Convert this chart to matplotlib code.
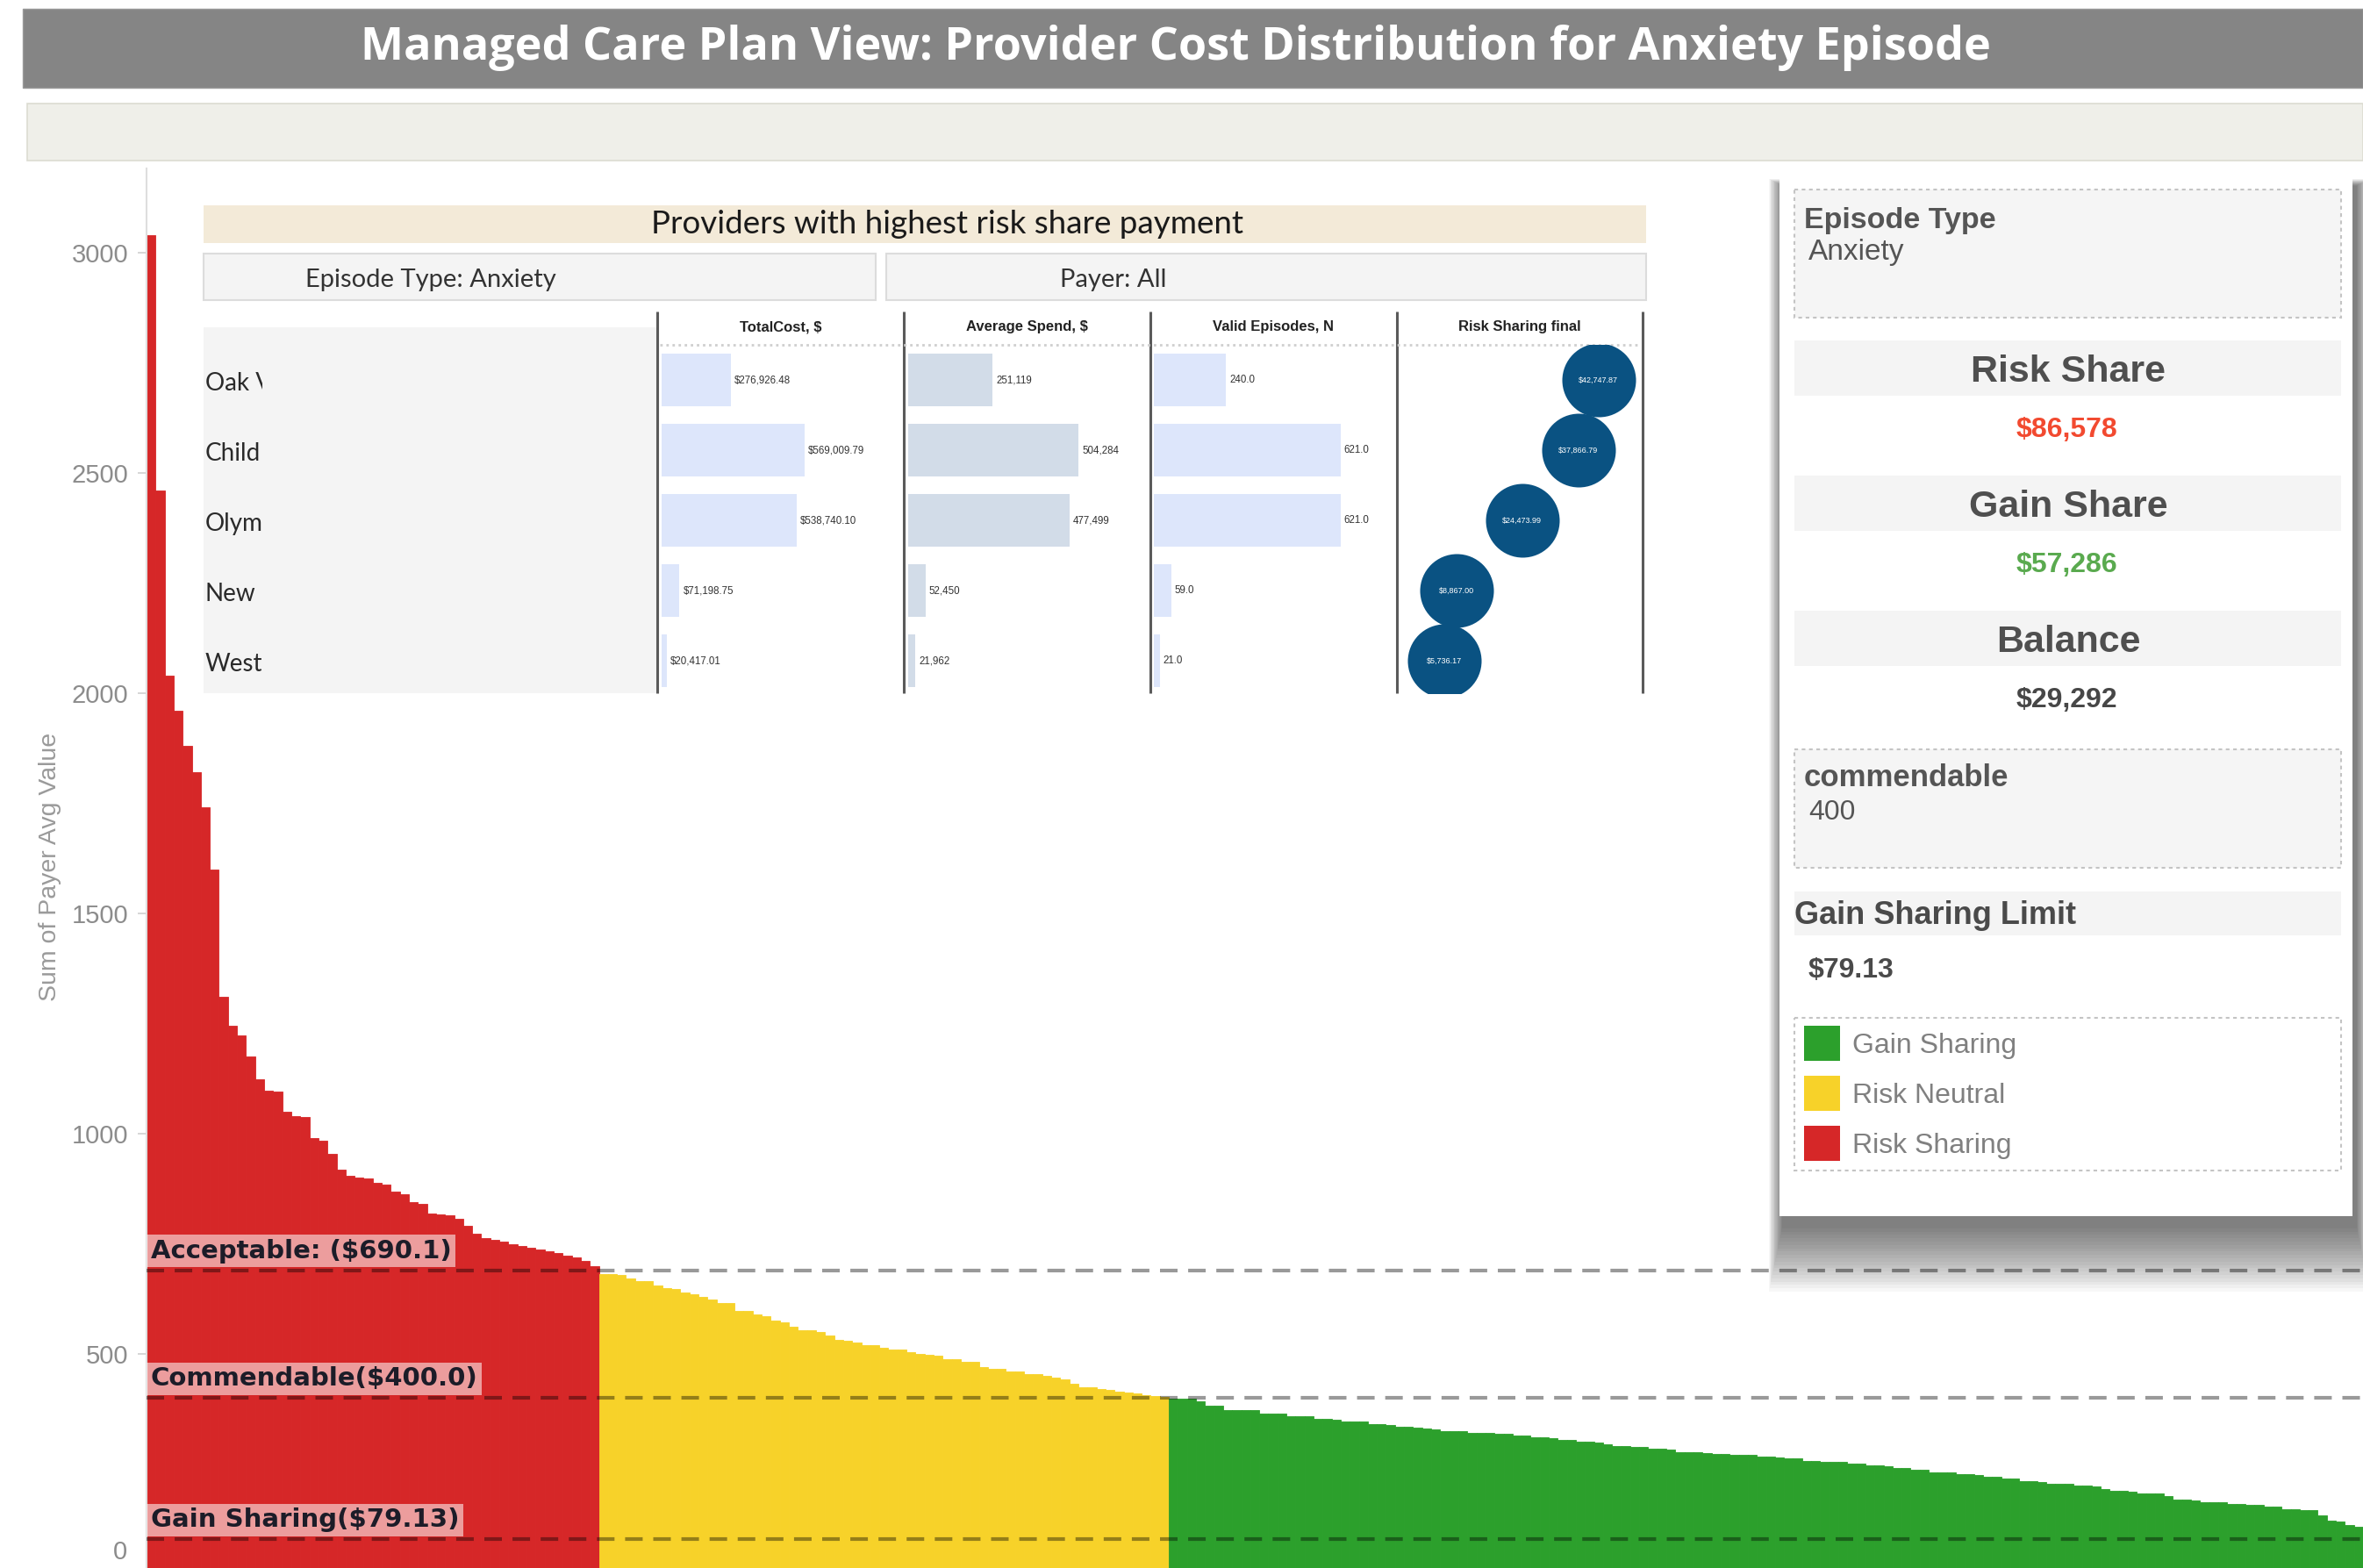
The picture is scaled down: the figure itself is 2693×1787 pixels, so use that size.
import matplotlib
matplotlib.use('Agg')
import matplotlib.pyplot as plt
from matplotlib.patches import Rectangle
import numpy as np

W, H = 2693, 1787

# provider average values, sorted high to low, split by band
red_values = [3040, 2460, 2040, 1960, 1880, 1821, 1740, 1600, 1310, 1245,
              1223, 1175, 1123, 1097, 1095, 1050, 1040, 1037, 991, 985,
              955, 918, 905, 901, 898, 888, 885, 868, 862, 845,
              840, 818, 816, 814, 806, 790, 772, 762, 758, 754,
              749, 746, 742, 738, 734, 729, 724, 719, 712, 700]
yellow_values = [682, 681, 679, 672, 665, 665, 655, 649, 648, 640,
                 636, 629, 624, 616, 615, 598, 597, 589, 585, 576,
                 572, 562, 554, 554, 550, 542, 531, 530, 526, 520,
                 519, 514, 510, 509, 504, 500, 498, 496, 489, 488,
                 483, 482, 470, 467, 466, 461, 460, 455, 454, 451,
                 446, 443, 433, 425, 424, 420, 419, 414, 412, 410,
                 407, 405, 402]
green_values = [399, 399, 398, 393, 383, 383, 373, 373, 373, 372,
                365, 365, 364, 359, 359, 358, 352, 352, 351, 347,
                347, 346, 340, 340, 339, 335, 335, 333, 330, 329,
                325, 325, 324, 320, 320, 320, 319, 318, 315, 314,
                310, 310, 309, 305, 304, 300, 300, 299, 295, 290,
                290, 289, 288, 284, 284, 283, 277, 277, 276, 275,
                272, 272, 271, 271, 270, 266, 266, 265, 262, 262,
                257, 257, 256, 256, 255, 252, 251, 247, 247, 246,
                242, 241, 237, 237, 232, 232, 231, 227, 227, 226,
                222, 222, 217, 217, 211, 211, 210, 206, 206, 205,
                201, 201, 200, 194, 189, 189, 188, 184, 184, 183,
                177, 169, 169, 168, 164, 164, 163, 159, 159, 158,
                157, 154, 153, 147, 147, 146, 145, 134, 121, 120,
                111, 108]

thresholds = [690.1, 400.0, 79.13]
threshold_labels = ['Acceptable: ($690.1)', 'Commendable($400.0)', 'Gain Sharing($79.13)']
y_ticks = [500, 1000, 1500, 2000, 2500, 3000]

# inset table
providers = ['Oak V', 'Child', 'Olymp', 'New', 'West']
total_cost = [276926.48, 569009.79, 538740.10, 71198.75, 20417.01]
avg_spend = [251119, 504284, 477499, 52450, 21962]
valid_episodes = [240.0, 621.0, 621.0, 59.0, 21.0]
risk_sharing = [42747.87, 37866.79, 24473.99, 8867.00, 5736.17]
table_columns = ['TotalCost, $', 'Average Spend, $', 'Valid Episodes, N', 'Risk Sharing final']

# side panel
risk_share = '$86,578'
gain_share = '$57,286'
balance = '$29,292'
gain_limit = '$79.13'
legend_labels = ['Gain Sharing', 'Risk Neutral', 'Risk Sharing']

RED = '#d62728'
YELLOW = '#f7d229'
GREEN = '#2ca02c'


def px_rect(x0, y0, x1, y1):
    # figure-fraction box from pixel corners, y measured from the top
    return [x0 / W, 1 - y1 / H, (x1 - x0) / W, (y1 - y0) / H]


def draw_main_chart(fig):
    ax = fig.add_axes(px_rect(167, 192, W, H), zorder=1)
    values = red_values + yellow_values + green_values
    colors = [RED] * len(red_values) + [YELLOW] * len(yellow_values) + [GREEN] * len(green_values)
    x = np.arange(len(values))
    ax.bar(x, values, width=1.0, color=colors, edgecolor=colors, linewidth=0.6)
    ax.set_xlim(-0.5, len(values) - 0.5)
    ax.set_ylim(14, 3191)

    for s in ['top', 'right', 'bottom']:
        ax.spines[s].set_visible(False)
    ax.spines['left'].set_color('#dedede')
    ax.spines['left'].set_linewidth(1.5)
    ax.set_xticks([])
    ax.set_yticks(y_ticks)
    ax.tick_params(axis='y', length=7, width=1.2, color='#d0d0d0', pad=8,
                   labelsize=21, labelcolor='#8c8c8c')
    for lab in ax.get_yticklabels():
        lab.set_family('Liberation Sans')
    ax.annotate('0', xy=(0, 50), xycoords=('axes fraction', 'data'), xytext=(-16, 0),
                textcoords='offset points', ha='right', va='center', fontsize=21,
                color='#8c8c8c', family='Liberation Sans')

    for v, lab in zip(thresholds, threshold_labels):
        ax.axhline(v, color='black', alpha=0.4, lw=3, dashes=(4.8, 2.9), zorder=3)
        ax.annotate(lab, xy=(0, v), xycoords=('axes fraction', 'data'), xytext=(3.5, 5.8),
                    textcoords='offset points', ha='left', va='bottom', fontsize=21,
                    fontweight='bold', family='DejaVu Sans', color='#1c1c28', zorder=4,
                    bbox=dict(boxstyle='square,pad=0.15', fc='white', ec='none', alpha=0.55))

    fig.text(57 / W, 1 - 988 / H, 'Sum of Payer Avg Value', rotation=90, ha='center',
             va='center', fontsize=20.5, color='#9a9a9a', family='Liberation Sans')
    return ax


def draw_header(over):
    over.add_patch(Rectangle((26, 10), W - 26, 90, fc='#858585', ec='#9a9a9a', lw=1))
    over.text(1340, 68, 'Managed Care Plan View: Provider Cost Distribution for Anxiety Episode',
              ha='center', va='baseline', fontsize=37.5, fontweight='bold', color='white',
              family='Open Sans')
    over.add_patch(Rectangle((31, 118), W - 31, 65, fc='#efefe9', ec='#dcdcd2', lw=1.2))


def draw_inset(fig, over):
    over.add_patch(Rectangle((232, 234), 1644, 43, fc='#f3ead8', lw=0))
    over.text(1079, 266, 'Providers with highest risk share payment', ha='center',
              va='baseline', fontsize=26.5, color='#1a1a1a', family='Lato')
    over.add_patch(Rectangle((232, 289), 766, 53, fc='#f4f4f4', ec='#dcdcdc', lw=1.5))
    over.add_patch(Rectangle((1010, 289), 866, 53, fc='#f4f4f4', ec='#dcdcdc', lw=1.5))
    over.text(491, 327, 'Episode Type: Anxiety', ha='center', va='baseline', fontsize=21,
              color='#333333', family='Lato')
    over.text(1269, 327, 'Payer: All', ha='center', va='baseline', fontsize=21,
              color='#333333', family='Lato')

    # row label pane
    over.add_patch(Rectangle((232, 373), 517, 417, fc='#f4f4f4', lw=0))
    col_lines = [749, 1030, 1311, 1592, 1872]
    over.vlines(col_lines, 355, 790, colors='#5a5a5a', lw=2.2)
    over.hlines(393, 752, 1870, colors='#cfcfcf', linestyles=(0, (1, 1.5)), lw=2)
    for i, name in enumerate(table_columns):
        cx = (col_lines[i] + col_lines[i + 1]) / 2
        over.text(cx, 377, name, ha='center', va='baseline', fontsize=12,
                  fontweight='bold', color='#222222', family='Liberation Sans')

    rows = np.arange(len(providers))
    ylim = (4.46, -0.5)

    lab_ax = fig.add_axes(px_rect(232, 393, 749, 790), zorder=6)
    lab_ax.set_xlim(0, 517)
    lab_ax.set_ylim(*ylim)
    lab_ax.axis('off')
    for r, name in zip(rows, providers):
        t = lab_ax.text(2, r + 0.15, name, ha='left', va='baseline', fontsize=20,
                        color='#2a2a2a', family='Lato', clip_on=True)
        t.set_clip_path(Rectangle((0, -1), 67, 7, transform=lab_ax.transData))

    specs = [
        (754, 1030, (0, 966000), total_cost, '#dde6fb', lambda v: '${:,.2f}'.format(v)),
        (1034.5, 1311, (0, 716900), avg_spend, '#d2dce8', lambda v: '{:,.0f}'.format(v)),
        (1314.5, 1592, (0, 809), valid_episodes, '#dde6fb', lambda v: '{:.1f}'.format(v)),
    ]
    for x0, x1, xl, vals, col, fmt in specs:
        a = fig.add_axes(px_rect(x0, 393, x1, 790), zorder=6)
        a.barh(rows, vals, height=0.75, color=col)
        for r, v in zip(rows, vals):
            a.annotate(fmt(v), xy=(v, r), xytext=(3, 0), textcoords='offset points',
                       ha='left', va='center', fontsize=8.3, color='#333333',
                       family='Liberation Sans')
        a.set_xlim(*xl)
        a.set_ylim(*ylim)
        a.axis('off')

    a = fig.add_axes(px_rect(1592, 393, 1872, 790), zorder=6)
    a.scatter(risk_sharing, rows, s=3660, color='#0a5282', linewidths=0, zorder=3)
    for r, v in zip(rows, risk_sharing):
        a.text(v, r, '${:,.2f}'.format(v), ha='center', va='center', fontsize=6.5,
               color='white', family='Liberation Sans', zorder=4)
    a.set_xlim(-5500, 53290)
    a.set_ylim(*ylim)
    a.axis('off')


def draw_side_panel(over):
    x0, y0, x1, y1 = 2028, 202, 2681, 1386
    for k in range(1, 21):
        over.add_patch(Rectangle((x0 - k * 0.8 + 4, y0 - k * 0.4 + 10), (x1 - x0) + k * 1.6,
                                 (y1 - y0) + k * 4.2, fc='black', alpha=0.03, lw=0))
    over.add_patch(Rectangle((x0, y0), x1 - x0, y1 - y0, fc='white', lw=0))

    dash = (0, (2, 2))
    over.add_patch(Rectangle((2045, 216), 623, 146, fc='#f5f5f5', ec='#c4c4c4', lw=1.5, ls=dash))
    over.text(2056, 260, 'Episode Type', fontsize=24.5, fontweight='bold', color='#555555',
              va='baseline', family='Liberation Sans')
    over.text(2061, 296, 'Anxiety', fontsize=24, color='#555555', va='baseline',
              family='Liberation Sans')

    cards = [('Risk Share', risk_share, '#f24a30', 388),
             ('Gain Share', gain_share, '#5aaa4f', 542),
             ('Balance', balance, '#474747', 696)]
    for title, val, col, top in cards:
        over.add_patch(Rectangle((2045, top), 623, 63, fc='#f4f4f4', lw=0))
        over.text(2357, top + 47, title, ha='center', va='baseline', fontsize=31,
                  fontweight='bold', color='#4f4f4f', family='Liberation Sans')
        over.text(2355, top + 110, val, ha='center', va='baseline', fontsize=23,
                  fontweight='bold', color=col, family='Liberation Sans')

    over.add_patch(Rectangle((2045, 854), 623, 135, fc='#f5f5f5', ec='#c4c4c4', lw=1.5, ls=dash))
    over.text(2056, 896, 'commendable', fontsize=25, fontweight='bold', color='#555555',
              va='baseline', family='Liberation Sans')
    over.text(2061, 934, '400', fontsize=23, color='#555555', va='baseline',
              family='Liberation Sans')

    over.add_patch(Rectangle((2045, 1016), 623, 50, fc='#f4f4f4', lw=0))
    over.text(2045, 1053, 'Gain Sharing Limit', fontsize=26, fontweight='bold',
              color='#4a4a4a', va='baseline', family='Liberation Sans')
    over.text(2061, 1114, gain_limit, fontsize=23, fontweight='bold', color='#4a4a4a',
              va='baseline', family='Liberation Sans')

    over.add_patch(Rectangle((2045, 1160), 623, 174, fc='white', ec='#c4c4c4', lw=1.5, ls=dash))
    for i, (lab, col) in enumerate(zip(legend_labels, [GREEN, YELLOW, RED])):
        yc = 1189 + i * 57
        over.add_patch(Rectangle((2056, yc - 20), 41, 40, fc=col, lw=0))
        over.text(2111, yc + 11, lab, fontsize=23, color='#808080', va='baseline',
                  family='Liberation Sans')


def main():
    fig = plt.figure(figsize=(W / 100, H / 100), dpi=100)
    fig.patch.set_facecolor('white')
    draw_main_chart(fig)

    over = fig.add_axes([0, 0, 1, 1], zorder=5)
    over.set_xlim(0, W)
    over.set_ylim(H, 0)
    over.axis('off')
    over.patch.set_alpha(0)

    draw_header(over)
    draw_inset(fig, over)
    draw_side_panel(over)

    fig.savefig('out.png', dpi=100)


if __name__ == '__main__':
    main()
